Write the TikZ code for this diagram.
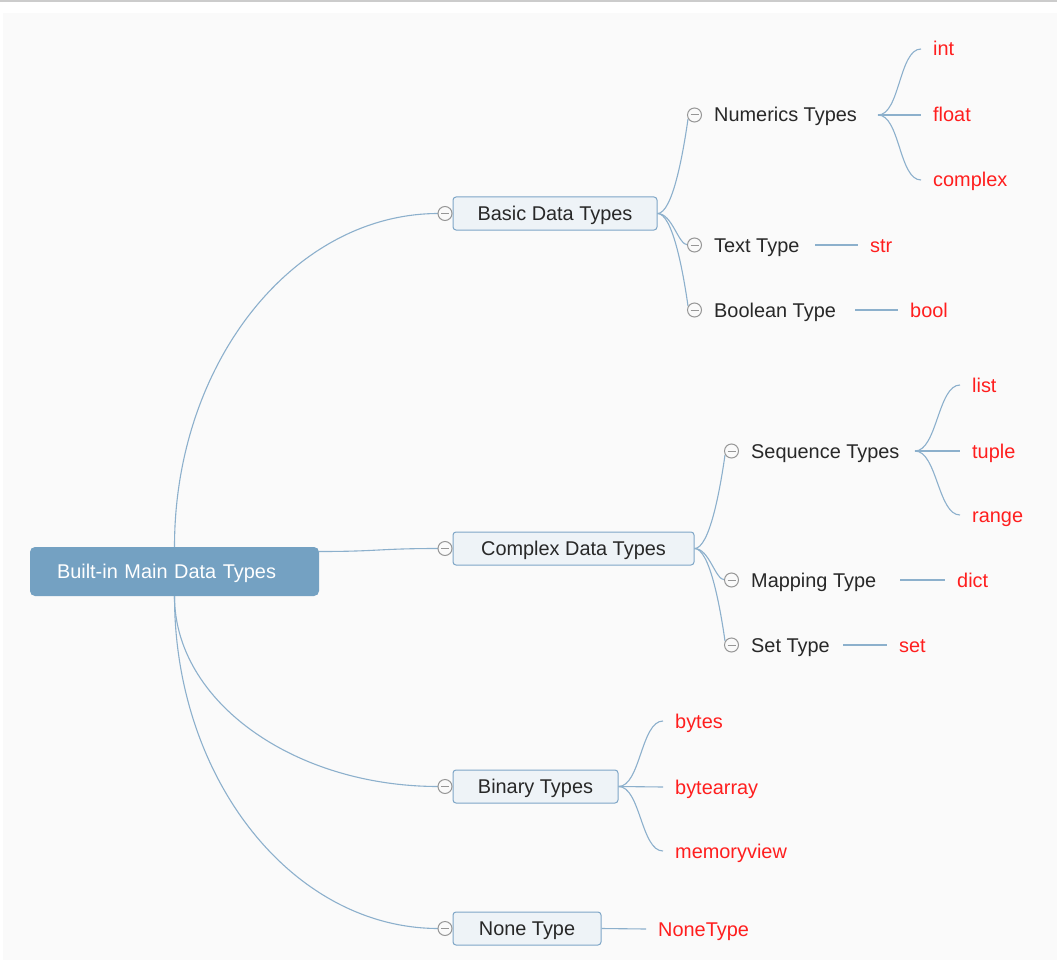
\documentclass[tikz,border=0pt]{standalone}
\usepackage{fontspec}
\setmainfont{Liberation Sans}
\usetikzlibrary{positioning}
\definecolor{rootblue}{RGB}{116,161,194}
\definecolor{boxline}{RGB}{126,166,199}
\definecolor{boxfill}{RGB}{238,243,247}
\definecolor{linkblue}{RGB}{140,176,204}
\definecolor{leafred}{RGB}{255,30,30}
\definecolor{darktext}{RGB}{40,40,40}
\definecolor{circgray}{RGB}{150,150,150}
\definecolor{panel}{RGB}{250,250,250}
\tikzset{link/.style={draw=linkblue, line width=1.1pt}}

\begin{document}
\begin{tikzpicture}[x=1pt,y=-1pt,
every node/.style={font=\fontsize{19.9pt}{24pt}\selectfont},
rootnode/.style={rectangle, rounded corners=5pt, fill=rootblue, text=white, minimum height=49pt, text width=235pt, inner xsep=27pt, inner ysep=0pt, align=left, text height=14pt, text depth=0pt},
typebox/.style={rectangle, rounded corners=3pt, draw=boxline, line width=1pt, fill=boxfill, text=darktext, minimum height=33pt, inner sep=0pt, text height=14pt, text depth=0pt},
subtype/.style={anchor=west, inner sep=0pt, text=darktext, text height=14pt, text depth=0pt},
leaf/.style={anchor=west, inner xsep=12pt, inner ysep=0pt, text=leafred, text height=14pt, text depth=0pt},
collapse/.style={circle, draw=circgray, fill=panel, line width=1pt, minimum size=14pt, inner sep=0pt,
  path picture={\draw[circgray, line width=1pt] ([xshift=3pt]path picture bounding box.west) -- ([xshift=-3pt]path picture bounding box.east);}},
]
%Background
\useasboundingbox (0,0) rectangle (1057,960);
\fill[white] (0,0) rectangle (1057,960);
\fill[black!20] (0,0) rectangle (1057,2);
\fill[panel] (3,13) rectangle (1057,960);

%Nodes
\node[rootnode] (root) at (174.5,571.5) {Built-in Main Data Types};

\node[typebox, minimum width=204pt] (basic) at (555,213.5) {Basic Data Types};
\node[typebox, minimum width=241pt] (complex) at (573.5,548.5) {Complex Data Types};
\node[typebox, minimum width=165pt] (binary) at (535.5,786.5) {Binary Types};
\node[typebox, minimum width=148pt] (none) at (527,928.5) {None Type};

\node[subtype] (numeric) at (714,115) {Numerics Types};
\node[subtype] (text) at (714,245) {Text Type};
\node[subtype] (boolean) at (714,310) {Boolean Type};
\node[subtype] (sequence) at (751,451) {Sequence Types};
\node[subtype] (mapping) at (751,580) {Mapping Type};
\node[subtype] (settype) at (751,645) {Set Type};

\node[leaf] (int) at (921,49) {int};
\node[leaf] (float) at (921,115) {float};
\node[leaf] (cplx) at (921,180) {complex};
\node[leaf] (str) at (858,245) {str};
\node[leaf] (bool) at (898,310) {bool};
\node[leaf] (list) at (960,385) {list};
\node[leaf] (tuple) at (960,451) {tuple};
\node[leaf] (range) at (960,515) {range};
\node[leaf] (dict) at (945,580) {dict};
\node[leaf] (set) at (887,645) {set};
\node[leaf] (bytes) at (663,721) {bytes};
\node[leaf] (bytearray) at (663,787) {bytearray};
\node[leaf] (memview) at (663,851) {memoryview};
\node[leaf] (nonetype) at (646,929) {NoneType};

\coordinate (numfan) at (878,115);
\coordinate (textfan) at (815,245);
\coordinate (boolfan) at (855,310);
\coordinate (seqfan) at (915,451);
\coordinate (mapfan) at (900,580);
\coordinate (setfan) at (843,645);

%Lines
\draw[link] (root.north) .. controls +(0,-184) and +(-145,0) .. ([xshift=-14pt]basic.west);
\draw[link] ([yshift=20pt]root.east) .. controls +(60,0) and +(-60,0) .. ([xshift=-14pt]complex.west);
\draw[link] (root.south) .. controls +(0,105) and +(-145,0) .. ([xshift=-14pt]binary.west);
\draw[link] (root.south) .. controls +(0,184) and +(-145,0) .. ([xshift=-14pt]none.west);

\draw[link] (basic.east) .. controls +(15,0) and +(-5,35) .. ([xshift=-26pt,yshift=-4pt]numeric.west);
\draw[link] (basic.east) .. controls +(15,0) and +(-10,0) .. ([xshift=-26pt]text.west);
\draw[link] (basic.east) .. controls +(15,0) and +(-5,-35) .. ([xshift=-26pt,yshift=4pt]boolean.west);
\draw[link] (complex.east) .. controls +(15,0) and +(-5,35) .. ([xshift=-26pt,yshift=-4pt]sequence.west);
\draw[link] (complex.east) .. controls +(15,0) and +(-10,0) .. ([xshift=-26pt]mapping.west);
\draw[link] (complex.east) .. controls +(15,0) and +(-5,-35) .. ([xshift=-26pt,yshift=4pt]settype.west);

\draw[link] (numfan) .. controls +(22,0) and +(-22,0) .. (int.west);
\draw[link] (numfan) -- (float.west);
\draw[link] (numfan) .. controls +(22,0) and +(-22,0) .. (cplx.west);
\draw[link] (textfan) -- (str.west);
\draw[link] (boolfan) -- (bool.west);
\draw[link] (seqfan) .. controls +(22,0) and +(-22,0) .. (list.west);
\draw[link] (seqfan) -- (tuple.west);
\draw[link] (seqfan) .. controls +(22,0) and +(-22,0) .. (range.west);
\draw[link] (mapfan) -- (dict.west);
\draw[link] (setfan) -- (set.west);
\draw[link] (binary.east) .. controls +(22,0) and +(-22,0) .. (bytes.west);
\draw[link] (binary.east) -- (bytearray.west);
\draw[link] (binary.east) .. controls +(22,0) and +(-22,0) .. (memview.west);
\draw[link] (none.east) -- (nonetype.west);

%Collapse buttons
\node[collapse, left=0pt of basic] (basicbtn) {};
\node[collapse, left=0pt of complex] (complexbtn) {};
\node[collapse, left=0pt of binary] (binarybtn) {};
\node[collapse, left=0pt of none] (nonebtn) {};
\node[collapse, left=12pt of numeric] (numericbtn) {};
\node[collapse, left=12pt of text] (textbtn) {};
\node[collapse, left=12pt of boolean] (booleanbtn) {};
\node[collapse, left=12pt of sequence] (sequencebtn) {};
\node[collapse, left=12pt of mapping] (mappingbtn) {};
\node[collapse, left=12pt of settype] (settypebtn) {};
\end{tikzpicture}
\end{document}
